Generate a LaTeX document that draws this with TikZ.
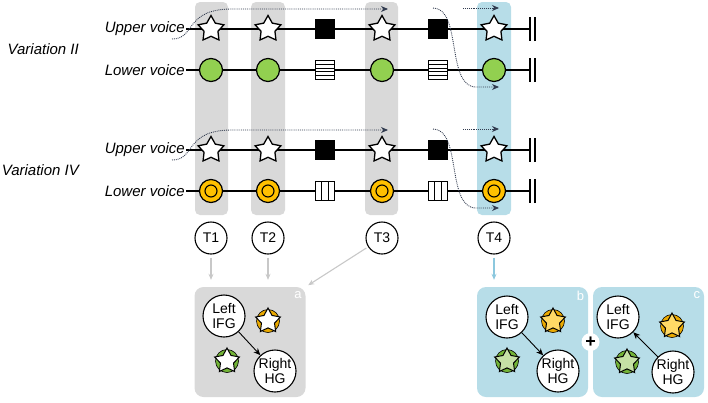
\documentclass[tikz,border=0pt]{standalone}
\usepackage{fontspec}
\setmainfont{Liberation Sans}
\usetikzlibrary{calc,positioning,arrows.meta,shapes.geometric}
\definecolor{stripgray}{RGB}{217,217,217}
\definecolor{stripblue}{RGB}{183,221,232}
\definecolor{notegreen}{RGB}{146,208,80}
\definecolor{noteorange}{RGB}{255,192,0}
\definecolor{starorange}{RGB}{255,217,102}
\definecolor{leaforange}{RGB}{235,170,0}
\definecolor{stargreen}{RGB}{197,224,165}
\definecolor{leafgreen}{RGB}{115,180,55}
\definecolor{arrowgray}{RGB}{200,200,200}
\definecolor{arrowblue}{RGB}{140,200,222}
\definecolor{dotline}{RGB}{50,60,80}

\begin{document}
\begin{tikzpicture}[x=1pt, y=-1pt,
    varlabel/.style={font=\fontsize{15}{17}\selectfont\itshape, inner sep=0pt, anchor=east},
    voice/.style={font=\fontsize{15}{17}\selectfont\itshape, inner sep=1pt, anchor=east},
    staff/.style={line width=1.3pt},
    note/.style={star, star points=5, star point ratio=1.85, draw, fill=white, line width=1.3pt, minimum size=27, inner sep=0pt},
    rest/.style={rectangle, fill=black, draw, line width=0.8pt, minimum size=19, inner sep=0pt},
    hrest/.style={rectangle, fill=white, draw, line width=1pt, minimum size=19, inner sep=0pt,
        path picture={\foreach \k in {1,...,4}
            \draw[line width=0.9pt] ($(path picture bounding box.south west)!\k/5!(path picture bounding box.north west)$) -- ($(path picture bounding box.south east)!\k/5!(path picture bounding box.north east)$);}},
    vrest/.style={rectangle, fill=white, draw, line width=1pt, minimum size=19, inner sep=0pt,
        path picture={\foreach \k in {1,2}
            \draw[line width=1pt] ($(path picture bounding box.south west)!\k/3!(path picture bounding box.south east)$) -- ($(path picture bounding box.north west)!\k/3!(path picture bounding box.north east)$);}},
    gnote/.style={circle, fill=notegreen, draw, line width=1.2pt, minimum size=23, inner sep=0pt},
    onote/.style={circle, fill=noteorange, draw, line width=1.2pt, minimum size=23, inner sep=0pt,
        path picture={\draw[line width=1.1pt] (path picture bounding box.center) circle[radius=6pt];}},
    flow/.style={densely dotted, line width=0.9pt, draw=dotline, -{Stealth[length=7pt, width=6pt]}},
    tnode/.style={circle, draw, line width=1.1pt, minimum size=32, inner sep=0pt, font=\fontsize{14}{16}\selectfont},
    tarrow/.style={draw=#1, line width=1.1pt, -{Stealth[length=6pt, width=5pt]}},
    panel/.style={rectangle, rounded corners=9pt, fill=#1, minimum width=111, minimum height=110, inner sep=0pt},
    plabel/.style={anchor=north east, inner sep=4pt, text=white, font=\fontsize{13}{15}\selectfont},
    region/.style={circle, draw, fill=white, line width=1.1pt, minimum size=42, inner sep=0pt, align=center, font=\fontsize{14}{15}\selectfont},
    leaf/.style={circle, fill=#1, draw, line width=0.6pt, minimum size=23, inner sep=0pt},
    pstar/.style={star, star points=5, star point ratio=1.9, draw, fill=#1, line width=1pt, minimum size=26, inner sep=0pt},
    link/.style={line width=0.9pt, -{Stealth[length=7pt, width=6pt]}}
  ]
  \useasboundingbox (0,0) rectangle (708,402);

  % time windows
  \fill[stripgray, rounded corners=5pt] (195,2) rectangle (228,215);
  \fill[stripgray, rounded corners=5pt] (251,2) rectangle (285,215);
  \fill[stripgray, rounded corners=5pt] (365,2) rectangle (398,215);
  \fill[stripblue, rounded corners=5pt] (477,2) rectangle (511,215);

  \node[varlabel] (v2) at (79,49) {Variation II};
  \node[varlabel] (v4) at (79,170) {Variation IV};

  % Variation II
  \node[voice] (u2) at (186,29) {Upper voice};
  \node[voice] (l2) at (186,70) {Lower voice};
  \coordinate (u2end) at (530,29);
  \coordinate (l2end) at (530,70);
  \draw[staff] (u2.east) -- (u2end);
  \draw[staff] (l2.east) -- (l2end);
  \draw[line width=1.5pt] (u2end) ++(0,-12) -- ++(0,24) ++(5,0) -- ++(0,-24);
  \draw[line width=1.5pt] (l2end) ++(0,-12) -- ++(0,24) ++(5,0) -- ++(0,-24);

  \node[note] (u2a) at (211,29) {};
  \node[note] (u2b) at (268,29) {};
  \node[rest] (u2c) at (325,29) {};
  \node[note] (u2d) at (382,29) {};
  \node[rest] (u2e) at (438,29) {};
  \node[note] (u2f) at (494,29) {};

  \node[gnote] (l2a) at (211,70) {};
  \node[gnote] (l2b) at (268,70) {};
  \node[hrest] (l2c) at (325,70) {};
  \node[gnote] (l2d) at (382,70) {};
  \node[hrest] (l2e) at (438,70) {};
  \node[gnote] (l2f) at (494,70) {};

  \coordinate (f2a) at (172,39);
  \coordinate (f2b) at (388,9);
  \coordinate (f2c) at (433,8);
  \coordinate (f2d) at (499,87);
  \coordinate (f2e) at (463,8);
  \coordinate (f2f) at (499,8);
  \draw[flow] (f2a) .. controls (196,39) and (184,9) .. (232,9) -- (f2b);
  \draw[flow] (f2c) .. controls (462,8) and (446,87) .. (476,87) -- (f2d);
  \draw[flow] (f2e) -- (f2f);

  % Variation IV
  \node[voice] (u4) at (186,150) {Upper voice};
  \node[voice] (l4) at (186,191) {Lower voice};
  \coordinate (u4end) at (530,150);
  \coordinate (l4end) at (530,191);
  \draw[staff] (u4.east) -- (u4end);
  \draw[staff] (l4.east) -- (l4end);
  \draw[line width=1.5pt] (u4end) ++(0,-12) -- ++(0,24) ++(5,0) -- ++(0,-24);
  \draw[line width=1.5pt] (l4end) ++(0,-12) -- ++(0,24) ++(5,0) -- ++(0,-24);

  \node[note] (u4a) at (211,150) {};
  \node[note] (u4b) at (268,150) {};
  \node[rest] (u4c) at (325,150) {};
  \node[note] (u4d) at (382,150) {};
  \node[rest] (u4e) at (438,150) {};
  \node[note] (u4f) at (494,150) {};

  \node[onote] (l4a) at (211,191) {};
  \node[onote] (l4b) at (268,191) {};
  \node[vrest] (l4c) at (325,191) {};
  \node[onote] (l4d) at (382,191) {};
  \node[vrest] (l4e) at (438,191) {};
  \node[onote] (l4f) at (494,191) {};

  \coordinate (f4a) at (172,160);
  \coordinate (f4b) at (388,130);
  \coordinate (f4c) at (433,129);
  \coordinate (f4d) at (499,208);
  \coordinate (f4e) at (463,129);
  \coordinate (f4f) at (499,129);
  \draw[flow] (f4a) .. controls (196,160) and (184,130) .. (232,130) -- (f4b);
  \draw[flow] (f4c) .. controls (462,129) and (446,208) .. (476,208) -- (f4d);
  \draw[flow] (f4e) -- (f4f);

  % time points
  \node[tnode] (T1) at (211,238) {T1};
  \node[tnode] (T2) at (268,238) {T2};
  \node[tnode] (T3) at (382,238) {T3};
  \node[tnode] (T4) at (494,238) {T4};

  % panels
  \node[panel=stripgray] (pa) at (250,342) {};
  \node[panel=stripblue] (pb) at (532.5,342) {};
  \node[panel=stripblue] (pc) at (648.5,342) {};
  \node[plabel] at (pa.north east) {a};
  \node[plabel] at (pb.north east) {b};
  \node[plabel] at (pc.north east) {c};

  \draw[tarrow=arrowgray, shorten <=3pt, shorten >=7pt] (T1) -- (T1 |- pa.north);
  \draw[tarrow=arrowgray, shorten <=3pt, shorten >=7pt] (T2) -- (T2 |- pa.north);
  \draw[tarrow=arrowgray, shorten <=2pt, shorten >=3pt] (T3) -- (pa.north east);
  \draw[tarrow=arrowblue, shorten <=3pt, shorten >=7pt] (T4) -- (T4 |- pb.north);

  % panel a
  \node[region] (ifga) at (224,316) {Left\\IFG};
  \node[region] (hga) at (275,371) {Right\\HG};
  \node[leaf=leaforange] (oa) at (268,321) {};
  \node[pstar=white] at (oa) {};
  \node[leaf=leafgreen] (ga) at (227,361) {};
  \node[pstar=white] at (ga) {};
  \draw[link] (ifga) -- (hga);

  % panel b
  \node[region] (ifgb) at (507,317) {Left\\IFG};
  \node[region] (hgb) at (558,371) {Right\\HG};
  \node[leaf=leaforange] (ob) at (553,321) {};
  \node[pstar=starorange] at (ob) {};
  \node[leaf=leafgreen] (gb) at (507,361) {};
  \node[pstar=stargreen] at (gb) {};
  \draw[link] (ifgb) -- (hgb);

  % panel c
  \node[region] (ifgc) at (618,317) {Left\\IFG};
  \node[region] (hgc) at (673,372) {Right\\HG};
  \node[leaf=leaforange] (oc) at (672,326) {};
  \node[pstar=starorange] at (oc) {};
  \node[leaf=leafgreen] (gc) at (627,362) {};
  \node[pstar=stargreen] at (gc) {};
  \draw[link] (hgc) -- (ifgc);

  \node[circle, fill=white, minimum size=18, inner sep=0pt, font=\fontsize{18}{18}\selectfont\bfseries] (plus) at (590.5,342) {+};
\end{tikzpicture}
\end{document}
